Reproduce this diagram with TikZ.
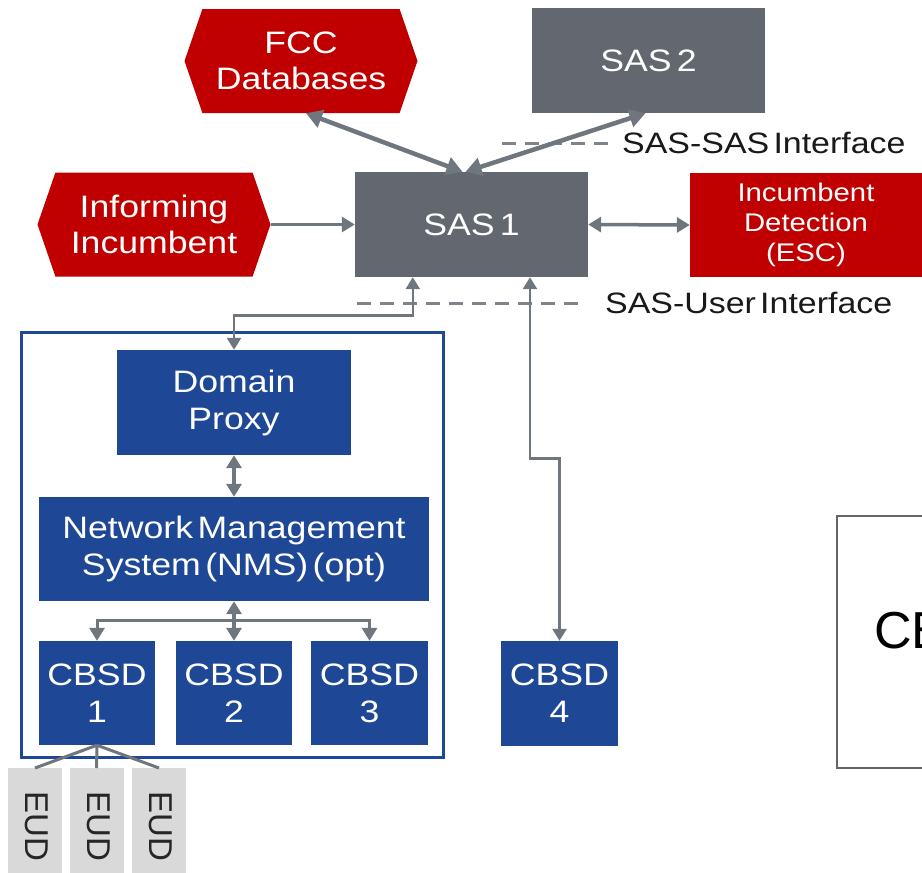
\documentclass[tikz,border=0pt]{standalone}
\usepackage{fontspec}
\setmainfont{Liberation Sans}[FakeStretch=1.15,WordSpace=0.45]
\newfontfamily\plainsans{Liberation Sans}
\usetikzlibrary{arrows.meta,shapes.symbols,calc}
\definecolor{cred}{RGB}{192,0,0}
\definecolor{cgray}{RGB}{99,104,112}
\definecolor{carrow}{RGB}{112,118,126}
\definecolor{cblue}{RGB}{30,72,150}
\definecolor{ceud}{RGB}{217,217,217}
\definecolor{cdash}{RGB}{128,132,138}
\definecolor{cframe}{RGB}{100,100,106}
\begin{document}
\begin{tikzpicture}[x=1pt,y=-1pt,
  hex/.style={signal, signal to=west and east, signal pointer angle=142,
    fill=cred, text=white, minimum width=233pt, minimum height=104pt,
    inner sep=0pt, align=center, font=\fontsize{31}{36}\selectfont},
  sasbox/.style={rectangle, fill=cgray, text=white, minimum width=233pt,
    minimum height=105pt, inner sep=0pt, font=\fontsize{31}{36}\selectfont},
  escbox/.style={rectangle, fill=cred, text=white, minimum width=232pt,
    minimum height=104pt, inner sep=0pt, align=center, font=\fontsize{25.5}{30}\selectfont},
  bluebox/.style={rectangle, fill=cblue, text=white, inner sep=0pt,
    align=center, font=\fontsize{31}{37}\selectfont},
  eudbox/.style={rectangle, fill=ceud, minimum width=54pt, minimum height=110pt, inner sep=0pt},
  eudtext/.style={rotate=-90, text=black!85, inner sep=0pt, font=\plainsans\fontsize{33}{36}\selectfont},
  lbl/.style={anchor=west, inner sep=0pt, text=black!90, font=\fontsize{29.5}{32}\selectfont},
  dashline/.style={draw=cdash, line width=3pt, dash pattern=on 14pt off 9pt},
  thickdbl/.style={draw=carrow, line width=4.5pt,
    arrows={Triangle[length=16pt,width=18pt]-Triangle[length=16pt,width=18pt]}},
  dbl/.style={draw=carrow, line width=3.5pt,
    arrows={Triangle[length=13pt,width=15pt]-Triangle[length=13pt,width=15pt]}},
  thindbl/.style={draw=carrow, line width=2.6pt,
    arrows={Triangle[length=12pt,width=14pt]-Triangle[length=12pt,width=14pt]}},
  one/.style={draw=carrow, line width=3pt, -{Triangle[length=13pt,width=15pt]}},
  eudline/.style={draw=carrow, line width=3pt}
]
\useasboundingbox (0,0) rectangle (922,873);
\begin{scope}
\clip (0,0) rectangle (922,873);
% top row
\node[hex] (fcc) at (301,61) {FCC\\Databases};
\node[sasbox] (sas2) at (648.5,60.5) {SAS\,2};
\node[hex] (inf) at (154,224.5) {Informing\\Incumbent};
\node[sasbox] (sas1) at (471.5,224.5) {SAS\,1};
\node[escbox] (esc) at (806,225) {Incumbent\\Detection\\(ESC)};
% interface labels
\coordinate (ss0) at (502,143);
\node[lbl] (sslbl) at (622,143) {SAS-SAS Interface};
\coordinate (su0) at (357,303);
\node[lbl] (sulbl) at (605,303) {SAS-User Interface};
\draw[dashline, shorten >=5pt] (ss0) -- (sslbl.west);
\draw[dashline, shorten >=18pt] (su0) -- (sulbl.west);
% domain frame
\node[draw=cblue, line width=3pt, minimum width=422pt, minimum height=425pt, inner sep=0pt] (frame) at (232,544.5) {};
\node[bluebox, minimum width=234pt, minimum height=105pt] (dp) at (234,402.5) {Domain\\Proxy};
\node[bluebox, minimum width=390pt, minimum height=104pt] (nms) at (234,549) {Network Management\\System (NMS) (opt)};
\node[bluebox, minimum width=116pt, minimum height=104pt] (cb1) at (97,693) {CBSD\\1};
\node[bluebox, minimum width=116pt, minimum height=104pt] (cb2) at (234,693) {CBSD\\2};
\node[bluebox, minimum width=117pt, minimum height=104pt] (cb3) at (369.5,693) {CBSD\\3};
\node[bluebox, minimum width=117pt, minimum height=105pt] (cb4) at (559.5,693.5) {CBSD\\4};
% EUDs
\node[eudbox, anchor=north] (eud1) at (35,768) {};
\node[eudbox, anchor=north] (eud2) at (96.5,768) {};
\node[eudbox, anchor=north] (eud3) at (159,768) {};
\node[eudtext] (t1) at (37,826) {EUD};
\node[eudtext] (t2) at (98.5,826) {EUD};
\node[eudtext] (t3) at (161,826) {EUD};
% right box
\node[draw=cframe, line width=2pt, minimum width=110pt, minimum height=252pt, inner sep=0pt, anchor=north west] (cbox) at (836,515) {};
\node[anchor=west, inner sep=0pt, text=black, font=\plainsans\fontsize{52}{56}\selectfont] (cbtext) at (874,631) {CB};
% connectors
\draw[thickdbl] ($(fcc.south)+(5,0)$) -- ($(sas1.north)+(-9,0)$);
\draw[thickdbl] ($(sas2.south)+(-3,0)$) -- ($(sas1.north)+(-6,0)$);
\draw[one] (inf.east) -- (sas1.west);
\draw[dbl] (sas1.east) -- (esc.west);
\draw[thindbl] ($(sas1.south west)+(58,0)$) -- ++(0,38) -| (dp.north);
\draw[thindbl] ($(sas1.south)+(58.5,0)$) -- ++(0,181) -| (cb4.north);
\draw[dbl] (dp.south) -- (nms.north);
\draw[dbl] (nms.south) -- (cb2.north);
\path (nms.south) ++(0,19) coordinate (hub);
\draw[one] (hub) -| (cb1.north);
\draw[one] (hub) -| (cb3.north);
\draw[eudline] (cb1.south) -- (eud1.north);
\draw[eudline] (cb1.south) -- (eud2.north);
\draw[eudline] (cb1.south) -- (eud3.north);
\end{scope}
\end{tikzpicture}
\end{document}
